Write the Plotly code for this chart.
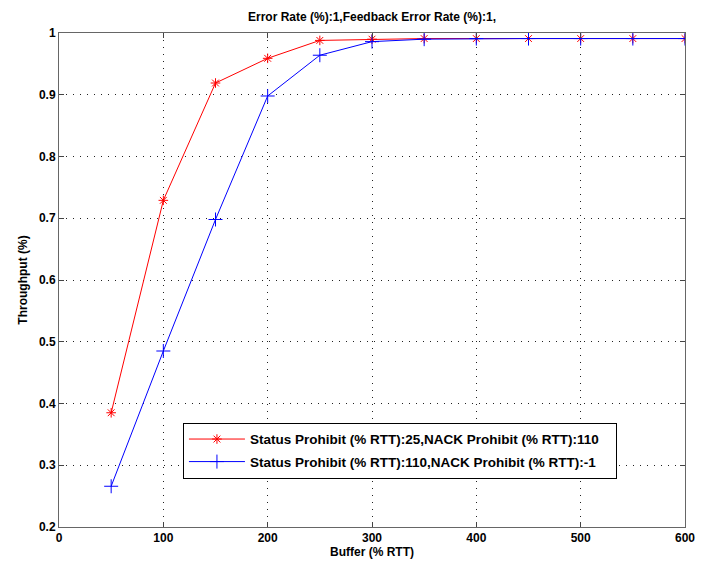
import plotly.graph_objects as go

buffer_pct = [50, 100, 150, 200, 250, 300, 350, 400, 450, 500, 550, 600]
red_tp = [0.385, 0.729, 0.919, 0.959, 0.988, 0.990, 0.991, 0.991, 0.991, 0.991, 0.991, 0.991]
blue_tp = [0.266, 0.485, 0.698, 0.898, 0.964, 0.986, 0.990, 0.991, 0.991, 0.991, 0.991, 0.991]
red_name = "Status Prohibit (% RTT):25,NACK Prohibit (% RTT):110"
blue_name = "Status Prohibit (% RTT):110,NACK Prohibit (% RTT):-1"
title_text = "Error Rate (%):1,Feedback Error Rate (%):1,"

FONT = "Liberation Sans, Arial, sans-serif"
PAD = "\u00a0\u00a0\u00a0"

fig = go.Figure()
fig.add_trace(go.Scatter(
    x=buffer_pct, y=red_tp, name=red_name + PAD, mode="lines+markers", legendgroup="a",
    line=dict(color="#ff0000", width=1),
    marker=dict(symbol="asterisk-open", size=8, color="#ff0000", line=dict(width=1, color="#ff0000")),
))
fig.add_trace(go.Scatter(
    x=buffer_pct, y=blue_tp, name=blue_name, mode="lines+markers", legendgroup="b",
    line=dict(color="#0000ff", width=1),
    marker=dict(symbol="cross-thin-open", size=10, color="#0000ff", line=dict(width=1, color="#0000ff")),
))

axis_common = dict(
    showgrid=True, gridcolor="#222222", griddash="1px,6px", gridwidth=1,
    showline=True, linecolor="#666666", linewidth=1, mirror="ticks",
    ticks="inside", ticklen=5, tickcolor="#444444",
    tickfont=dict(family=FONT, size=12, color="#000000", weight="bold"),
    zeroline=False, automargin=False,
)

# page body has an 8px margin: figure drawn at (8, 8)
fig.update_layout(
    width=700, height=555,
    margin=dict(l=51, r=23, t=25, b=36, autoexpand=False),
    paper_bgcolor="#ffffff", plot_bgcolor="#ffffff",
    font=dict(family=FONT, size=12, color="#000000"),
    title=dict(text=title_text, x=0.52, xanchor="center", y=0.985, yanchor="middle",
               font=dict(family=FONT, size=12, weight="bold", color="#000000")),
    xaxis=dict(range=[0, 600], dtick=100, tick0=0,
               title=dict(text="Buffer (% RTT)", standoff=2,
                          font=dict(family=FONT, size=12, weight="bold")),
               **axis_common),
    yaxis=dict(range=[0.2, 1.0], dtick=0.1, tick0=0.2,
               title=dict(text="Throughput (%)", standoff=8,
                          font=dict(family=FONT, size=12, weight="bold")),
               **axis_common),
    legend=dict(x=0.198, y=0.211, xanchor="left", yanchor="top",
                bgcolor="#ffffff", bordercolor="#000000", borderwidth=1,
                font=dict(family=FONT, size=13.5, weight="bold", color="#000000"),
                itemwidth=56, tracegroupgap=2),
    showlegend=True,
)

fig.write_html("out.html")
